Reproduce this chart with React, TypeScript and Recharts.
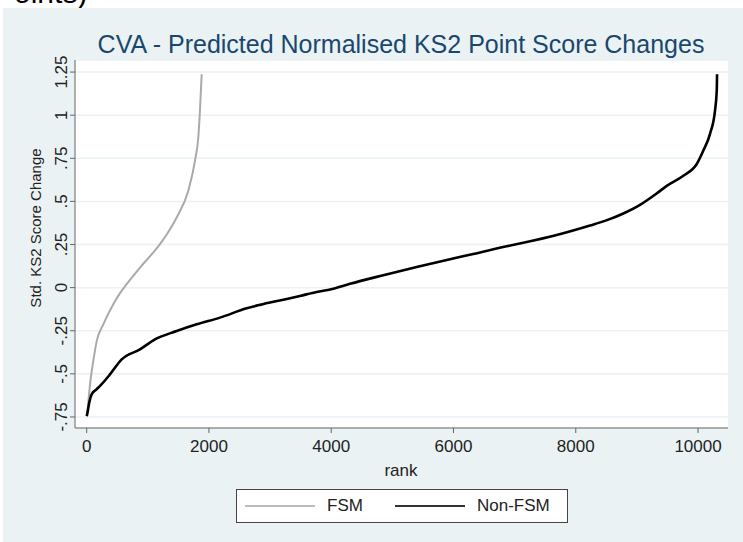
import React from 'react';
import { LineChart, Line, XAxis, YAxis, CartesianGrid } from 'recharts';

// FSM pupils, ranked
const fsmRank = [0, 10, 30, 54, 108, 164, 272, 435, 540, 654, 872, 1199, 1330, 1472, 1662, 1772, 1826, 1853, 1881];
const fsmScore = [-0.745, -0.736, -0.65, -0.562, -0.426, -0.31, -0.213, -0.097, -0.035, 0.02, 0.116, 0.252, 0.32, 0.407, 0.562, 0.737, 0.872, 1.027, 1.237];

// Non-FSM pupils, ranked
const nonFsmRank = [0, 10, 40, 82, 160, 245, 381, 573, 872, 1117, 1472, 1799, 2181, 2617, 2835, 3216, 3489, 3762, 4000, 4307, 4852, 5398, 5943, 6324, 6870, 7142, 7688, 8233, 8500, 8778, 9051, 9300, 9488, 9760, 9979, 10087, 10196, 10278, 10306, 10311];
const nonFsmScore = [-0.745, -0.73, -0.67, -0.618, -0.59, -0.56, -0.503, -0.416, -0.358, -0.3, -0.252, -0.213, -0.174, -0.12, -0.1, -0.07, -0.048, -0.025, -0.01, 0.022, 0.072, 0.12, 0.165, 0.195, 0.24, 0.26, 0.305, 0.36, 0.39, 0.43, 0.48, 0.54, 0.59, 0.649, 0.717, 0.795, 0.892, 1.028, 1.144, 1.237];

const xTicks = [0, 2000, 4000, 6000, 8000, 10000];
const yTicks = [-0.75, -0.5, -0.25, 0, 0.25, 0.5, 0.75, 1, 1.25];
const yTickLabels = ['-.75', '-.5', '-.25', '0', '.25', '.5', '.75', '1', '1.25'];

const fsmData = fsmRank.map((r, i) => ({ rank: r, score: fsmScore[i] }));
const nonFsmData = nonFsmRank.map((r, i) => ({ rank: r, score: nonFsmScore[i] }));

const FONT = '"Liberation Sans", Arial, Helvetica, sans-serif';
const BG = '#eaf2f3';

const YTick = ({ x, y, payload }: any) => {
  const idx = yTicks.indexOf(payload.value);
  return (
    <text
      x={x}
      y={y}
      transform={`rotate(-90, ${x}, ${y})`}
      textAnchor="middle"
      fontSize={17}
      fontFamily={FONT}
      fill="#222"
    >
      {idx >= 0 ? yTickLabels[idx] : payload.value}
    </text>
  );
};

export default function App() {
  return (
    <div style={{ position: 'absolute', left: 0, top: 0, width: 743, height: 542, background: '#fff', overflow: 'hidden', fontFamily: FONT }}>
      <div style={{ position: 'absolute', left: -6, top: -24, fontSize: 30, color: '#000', whiteSpace: 'nowrap' }}>Points)</div>
      <div style={{ position: 'absolute', left: 3, top: 8, width: 740, height: 534, background: BG }} />

      <div style={{ position: 'absolute', left: 0, top: 0 }}>
        <LineChart width={743} height={542} margin={{ top: 60, right: 15, left: 30, bottom: 84 }}>
          <CartesianGrid vertical={false} fill="#fff" stroke={BG} strokeWidth={1.5} />
          <XAxis
            dataKey="rank"
            type="number"
            domain={[-191, 10490]}
            ticks={xTicks}
            allowDataOverflow
            height={30}
            tickSize={5}
            tickMargin={7}
            tick={{ fontSize: 17, fill: '#222', fontFamily: FONT }}
            stroke="#666"
          />
          <YAxis
            type="number"
            domain={[-0.814, 1.32]}
            ticks={yTicks}
            allowDataOverflow
            width={45}
            tickSize={5}
            tickMargin={3}
            tick={<YTick />}
            stroke="#666"
          />
          <Line data={fsmData} dataKey="score" type="monotone" stroke="#aaaaaa" strokeWidth={2} dot={false} isAnimationActive={false} />
          <Line data={nonFsmData} dataKey="score" type="monotone" stroke="#000" strokeWidth={2.6} dot={false} isAnimationActive={false} />
        </LineChart>
      </div>

      <svg width={743} height={542} style={{ position: 'absolute', left: 0, top: 0, pointerEvents: 'none' }}>
        <text x={401} y={53} textAnchor="middle" fontSize={25} fill="#1a476f" fontFamily={FONT}>
          CVA - Predicted Normalised KS2 Point Score Changes
        </text>
        <text x={41} y={228} textAnchor="middle" fontSize={15} fill="#222" fontFamily={FONT} transform="rotate(-90, 41, 228)">
          Std. KS2 Score Change
        </text>
        <text x={401} y={476} textAnchor="middle" fontSize={17} fill="#222" fontFamily={FONT}>
          rank
        </text>
      </svg>

      <div style={{ position: 'absolute', left: 236, top: 489, width: 330, height: 32, background: '#fff', border: '1px solid #444' }}>
        <div style={{ position: 'absolute', left: 8, top: 15, width: 70, height: 2, background: '#bbb' }} />
        <div style={{ position: 'absolute', left: 90, top: 6, fontSize: 17, color: '#222' }}>FSM</div>
        <div style={{ position: 'absolute', left: 158, top: 15, width: 70, height: 2, background: '#333' }} />
        <div style={{ position: 'absolute', left: 240, top: 6, fontSize: 17, color: '#222' }}>Non-FSM</div>
      </div>
    </div>
  );
}
